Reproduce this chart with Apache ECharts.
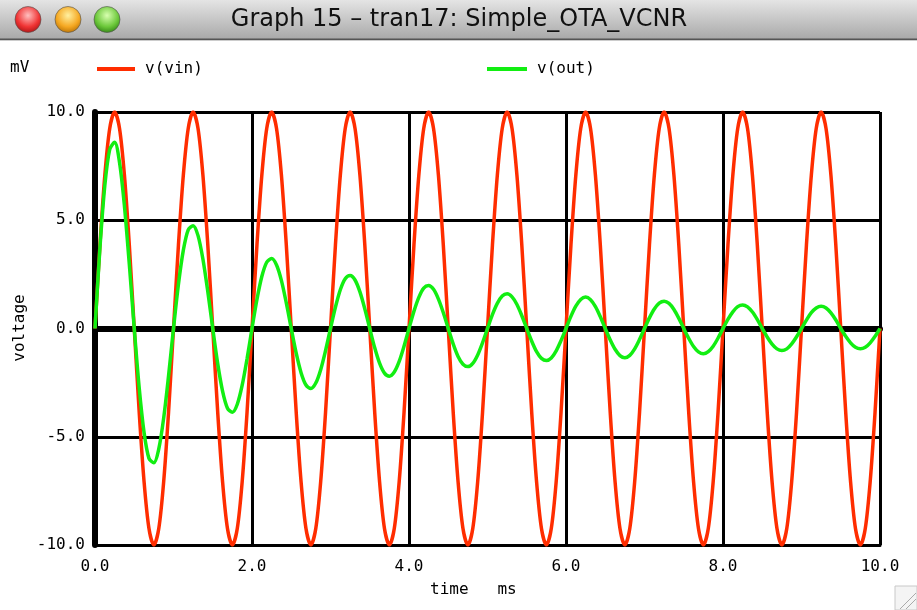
<!DOCTYPE html>
<html><head><meta charset="utf-8">
<script src="https://cdn.jsdelivr.net/npm/echarts@6/dist/echarts.min.js"></script>
<style>html,body{margin:0;padding:0;background:#fff;}#c{width:917px;height:610px;}</style>
</head><body><div id="c"></div><script>
// time samples (ms)
const timeMs = [
0,0.0625,0.125,0.1875,0.25,0.3125,0.375,0.4375,0.5,0.5625,0.625,0.6875,0.75,0.8125,0.875,0.9375,
1,1.0625,1.125,1.1875,1.25,1.3125,1.375,1.4375,1.5,1.5625,1.625,1.6875,1.75,1.8125,1.875,1.9375,
2,2.0625,2.125,2.1875,2.25,2.3125,2.375,2.4375,2.5,2.5625,2.625,2.6875,2.75,2.8125,2.875,2.9375,
3,3.0625,3.125,3.1875,3.25,3.3125,3.375,3.4375,3.5,3.5625,3.625,3.6875,3.75,3.8125,3.875,3.9375,
4,4.0625,4.125,4.1875,4.25,4.3125,4.375,4.4375,4.5,4.5625,4.625,4.6875,4.75,4.8125,4.875,4.9375,
5,5.0625,5.125,5.1875,5.25,5.3125,5.375,5.4375,5.5,5.5625,5.625,5.6875,5.75,5.8125,5.875,5.9375,
6,6.0625,6.125,6.1875,6.25,6.3125,6.375,6.4375,6.5,6.5625,6.625,6.6875,6.75,6.8125,6.875,6.9375,
7,7.0625,7.125,7.1875,7.25,7.3125,7.375,7.4375,7.5,7.5625,7.625,7.6875,7.75,7.8125,7.875,7.9375,
8,8.0625,8.125,8.1875,8.25,8.3125,8.375,8.4375,8.5,8.5625,8.625,8.6875,8.75,8.8125,8.875,8.9375,
9,9.0625,9.125,9.1875,9.25,9.3125,9.375,9.4375,9.5,9.5625,9.625,9.6875,9.75,9.8125,9.875,9.9375,
10];
// v(vin) in mV
const vinMv = [
0,3.83,7.07,9.24,10,9.24,7.07,3.83,0,-3.83,-7.07,-9.24,-10,-9.24,-7.07,-3.83,
0,3.83,7.07,9.24,10,9.24,7.07,3.83,0,-3.83,-7.07,-9.24,-10,-9.24,-7.07,-3.83,
0,3.83,7.07,9.24,10,9.24,7.07,3.83,0,-3.83,-7.07,-9.24,-10,-9.24,-7.07,-3.83,
0,3.83,7.07,9.24,10,9.24,7.07,3.83,0,-3.83,-7.07,-9.24,-10,-9.24,-7.07,-3.83,
0,3.83,7.07,9.24,10,9.24,7.07,3.83,0,-3.83,-7.07,-9.24,-10,-9.24,-7.07,-3.83,
0,3.83,7.07,9.24,10,9.24,7.07,3.83,0,-3.83,-7.07,-9.24,-10,-9.24,-7.07,-3.83,
0,3.83,7.07,9.24,10,9.24,7.07,3.83,0,-3.83,-7.07,-9.24,-10,-9.24,-7.07,-3.83,
0,3.83,7.07,9.24,10,9.24,7.07,3.83,0,-3.83,-7.07,-9.24,-10,-9.24,-7.07,-3.83,
0,3.83,7.07,9.24,10,9.24,7.07,3.83,0,-3.83,-7.07,-9.24,-10,-9.24,-7.07,-3.83,
0,3.83,7.07,9.24,10,9.24,7.07,3.83,0,-3.83,-7.07,-9.24,-10,-9.24,-7.07,-3.83,
0];
// v(out) in mV
const voutMv = [
0,3.7,6.6,8.27,8.6,7.67,5.66,2.95,0,-2.72,-4.8,-6.0,-6.2,-5.56,-4.13,-2.17,
0,2.03,3.61,4.56,4.75,4.29,3.2,1.69,0,-1.61,-2.89,-3.68,-3.87,-3.5,-2.62,-1.39,
0,1.33,2.4,3.06,3.23,2.93,2.21,1.17,0,-1.13,-2.04,-2.61,-2.77,-2.52,-1.9,-1.01,
0,0.98,1.79,2.3,2.45,2.24,1.69,0.9,0,-0.88,-1.6,-2.06,-2.2,-2.01,-1.52,-0.81,
0,0.79,1.44,1.87,1.99,1.81,1.36,0.73,0,-0.71,-1.29,-1.65,-1.76,-1.61,-1.22,-0.65,
0,0.64,1.16,1.5,1.6,1.46,1.11,0.59,0,-0.58,-1.07,-1.38,-1.48,-1.36,-1.03,-0.55,
0,0.56,1.03,1.34,1.45,1.33,1.01,0.54,0,-0.52,-0.96,-1.25,-1.35,-1.24,-0.94,-0.5,
0,0.49,0.9,1.17,1.26,1.16,0.88,0.47,0,-0.45,-0.83,-1.08,-1.17,-1.07,-0.82,-0.44,
0,0.42,0.77,1.01,1.09,1.0,0.76,0.41,0,-0.39,-0.72,-0.94,-1.02,-0.94,-0.71,-0.38,
0,0.39,0.73,0.95,1.03,0.95,0.72,0.39,0,-0.36,-0.66,-0.87,-0.94,-0.87,-0.66,-0.36,
0];
const seriesNames = ['v(vin)', 'v(out)'];
const windowTitle = 'Graph 15 \u2013 tran17: Simple_OTA_VCNR';
const yUnit = 'mV';
const yName = 'voltage';
const xName = 'time   ms';

const mono = '"DejaVu Sans Mono", monospace';
const pair = (xs, ys) => xs.map((x, i) => [x, ys[i]]);
const chart = echarts.init(document.getElementById('c'), null, {renderer: 'canvas'});

const light = (cx, c1, c2, c3) => ({
  type: 'circle', shape: {cx: cx, cy: 19.5, r: 13},
  style: {fill: {type: 'radial', x: 0.5, y: 0.35, r: 0.7,
    colorStops: [{offset: 0, color: c1}, {offset: 0.6, color: c2}, {offset: 1, color: c3}]},
    stroke: 'rgba(80,80,80,0.6)', lineWidth: 1}
});

chart.setOption({
  animation: false,
  backgroundColor: '#ffffff',
  grid: {left: 95, right: 37, top: 112, bottom: 65},
  legend: [
    {left: 97, top: 61, padding: 0, icon: 'rect', itemWidth: 38, itemHeight: 4,
     data: [seriesNames[0]], textStyle: {fontFamily: mono, fontSize: 16, color: '#000', padding: [0, 0, 0, 5]}},
    {left: 487, top: 61, padding: 0, icon: 'rect', itemWidth: 40, itemHeight: 4,
     data: [seriesNames[1]], textStyle: {fontFamily: mono, fontSize: 16, color: '#000', padding: [0, 0, 0, 5]}}
  ],
  xAxis: [
    {type: 'value', min: 0, max: 10, interval: 2, position: 'bottom',
     axisLine: {onZero: false, lineStyle: {color: '#000', width: 3}},
     axisTick: {show: false},
     axisLabel: {color: '#000', fontFamily: mono, fontSize: 16, margin: 14, formatter: v => v.toFixed(1)},
     splitLine: {show: true, lineStyle: {color: '#000', width: 3}}},
    {type: 'value', min: 0, max: 10, interval: 2, position: 'top',
     axisLine: {onZero: true, lineStyle: {color: '#000', width: 6}},
     axisTick: {show: false}, axisLabel: {show: false}, splitLine: {show: false}}
  ],
  yAxis: {type: 'value', min: -10, max: 10, interval: 5,
    axisLine: {show: true, onZero: false, lineStyle: {color: '#000', width: 6}},
    axisTick: {show: false},
    axisLabel: {color: '#000', fontFamily: mono, fontSize: 16, margin: 10, formatter: v => v.toFixed(1)},
    splitLine: {show: true, lineStyle: {color: '#000', width: 3}}},
  series: [
    {name: seriesNames[0], type: 'line', xAxisIndex: 0, data: pair(timeMs, vinMv), smooth: 0.3,
     showSymbol: false, symbol: 'none', color: '#ff2d00', lineStyle: {color: '#ff2d00', width: 3.5}, z: 3},
    {name: seriesNames[1], type: 'line', xAxisIndex: 0, data: pair(timeMs, voutMv), smooth: 0.3,
     showSymbol: false, symbol: 'none', color: '#12ee12', lineStyle: {color: '#12ee12', width: 3.5}, z: 4}
  ],
  graphic: [
    {type: 'rect', shape: {x: 0, y: 0, width: 917, height: 39},
     style: {fill: {type: 'linear', x: 0, y: 0, x2: 0, y2: 1,
       colorStops: [{offset: 0, color: '#e4e4e4'}, {offset: 1, color: '#a9a9a9'}]}}, z: 0},
    {type: 'rect', shape: {x: 0, y: 38.5, width: 917, height: 1.5}, style: {fill: '#555'}},
    {type: 'rect', shape: {x: 0, y: 40, width: 917, height: 1}, style: {fill: '#ccc'}},
    light(28, '#ffc0c0', '#f03434', '#a01010'),
    light(68, '#fff0a0', '#f5a822', '#b06a00'),
    light(107, '#d8ffb0', '#6cc83a', '#2a7a10'),
    {type: 'text', x: 459, y: 19.5,
     style: {text: windowTitle, font: '24px "DejaVu Sans"', fill: '#111', align: 'center', verticalAlign: 'middle'}},
    {type: 'text', x: 10, y: 68,
     style: {text: yUnit, font: '16px ' + mono, fill: '#000', align: 'left', verticalAlign: 'middle'}},
    {type: 'text', x: 20, y: 328, rotation: Math.PI / 2,
     style: {text: yName, font: '16px ' + mono, fill: '#000', align: 'center', verticalAlign: 'middle'}},
    {type: 'text', x: 430, y: 590,
     style: {text: xName, font: '16px ' + mono, fill: '#000', align: 'left', verticalAlign: 'middle'}},
    {type: 'rect', shape: {x: 895, y: 586, width: 22, height: 24}, style: {fill: '#f4f4f4', stroke: '#c8c8c8', lineWidth: 1}},
    {type: 'line', shape: {x1: 900, y1: 609, x2: 916, y2: 593}, style: {stroke: '#aaa', lineWidth: 1}},
    {type: 'line', shape: {x1: 906, y1: 609, x2: 916, y2: 599}, style: {stroke: '#aaa', lineWidth: 1}}
  ]
});
</script></body></html>
